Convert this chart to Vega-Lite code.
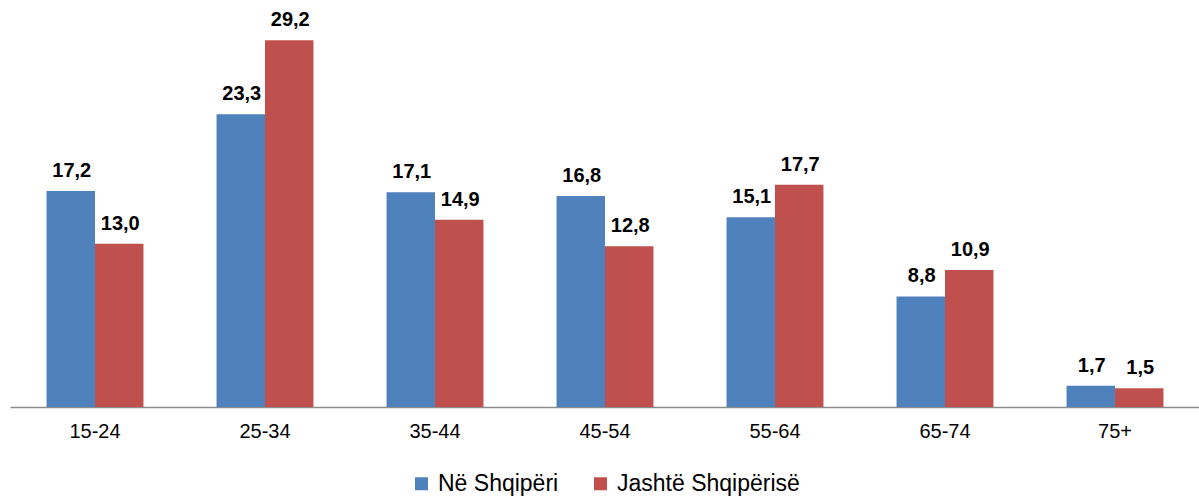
{
  "$schema": "https://vega.github.io/schema/vega-lite/v6.json",
  "autosize": {"type": "none"},
  "padding": {"left": 10, "top": 0, "right": 0, "bottom": 94},
  "width": 1190,
  "height": 407,
  "background": "white",
  "config": {"view": {"stroke": null}, "font": "Liberation Sans",
    "locale": {"number": {"decimal": ",", "thousands": ".", "grouping": [3], "currency": ["", " €"]}}},
  "data": {"values": [
    {"age": "15-24", "series": "Në Shqipëri", "value": 17.2},
    {"age": "15-24", "series": "Jashtë Shqipërisë", "value": 13.0},
    {"age": "25-34", "series": "Në Shqipëri", "value": 23.3},
    {"age": "25-34", "series": "Jashtë Shqipërisë", "value": 29.2},
    {"age": "35-44", "series": "Në Shqipëri", "value": 17.1},
    {"age": "35-44", "series": "Jashtë Shqipërisë", "value": 14.9},
    {"age": "45-54", "series": "Në Shqipëri", "value": 16.8},
    {"age": "45-54", "series": "Jashtë Shqipërisë", "value": 12.8},
    {"age": "55-64", "series": "Në Shqipëri", "value": 15.1},
    {"age": "55-64", "series": "Jashtë Shqipërisë", "value": 17.7},
    {"age": "65-74", "series": "Në Shqipëri", "value": 8.8},
    {"age": "65-74", "series": "Jashtë Shqipërisë", "value": 10.9},
    {"age": "75+", "series": "Në Shqipëri", "value": 1.7},
    {"age": "75+", "series": "Jashtë Shqipërisë", "value": 1.5}
  ]},
  "encoding": {
    "x": {"field": "age", "type": "nominal", "sort": null,
      "scale": {"paddingInner": 0.43, "paddingOuter": 0.215},
      "axis": {"title": null, "labelAngle": 0, "ticks": false, "labelFontSize": 20, "labelColor": "#000", "labelPadding": 14, "domainColor": "#8c8c8c", "domainWidth": 1.5, "grid": false}},
    "xOffset": {"field": "series", "type": "nominal", "sort": ["Në Shqipëri", "Jashtë Shqipërisë"], "scale": {"paddingInner": 0, "paddingOuter": 0}},
    "y": {"field": "value", "type": "quantitative", "scale": {"domain": [0, 32.4], "nice": false}, "axis": null}
  },
  "layer": [
    {"mark": {"type": "bar"},
     "encoding": {
       "color": {"field": "series", "type": "nominal", "sort": ["Në Shqipëri", "Jashtë Shqipërisë"],
         "scale": {"domain": ["Në Shqipëri", "Jashtë Shqipërisë"], "range": ["#4f81bd", "#c0504d"]},
         "legend": {"title": null, "orient": "none", "legendX": 400, "legendY": 472, "direction": "horizontal", "symbolType": "square", "symbolSize": 169, "symbolStrokeWidth": 0, "labelFontSize": 23, "labelLimit": 400, "labelColor": "#000", "columnPadding": 30, "labelOffset": 5, "padding": 0}
       }}},
    {"mark": {"type": "text", "fontWeight": "bold", "fontSize": 20, "baseline": "alphabetic", "dy": -14, "dx": 1, "color": "#000"},
     "encoding": {"text": {"field": "value", "type": "quantitative", "format": ".1f"},
       "detail": {"field": "series"}}}
  ]
}
